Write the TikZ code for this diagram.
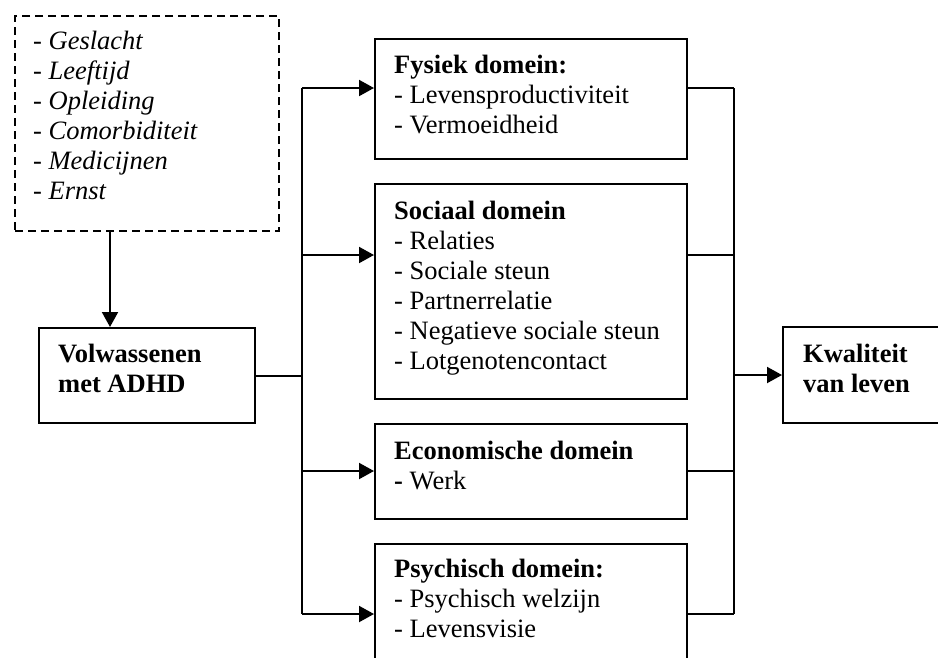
\documentclass[tikz,border=0pt]{standalone}
\usepackage{fontspec}
\setmainfont{Liberation Serif}
\usetikzlibrary{arrows.meta}
\begin{document}
\begin{tikzpicture}[x=1pt,y=-1pt,
  box/.style={draw,line width=2pt,inner sep=0pt,anchor=north west},
  dbox/.style={box,dash pattern=on 8pt off 5pt},
  txt/.style={inner sep=0pt,anchor=base west,align=left,font=\fontsize{26.5}{30}\selectfont},
  conn/.style={line width=2pt},
  arr/.style={conn,-{Triangle[length=15pt,width=16pt]}}]
\useasboundingbox (0,0) rectangle (938,657);
\fill[white] (0,0) rectangle (938,657);
\clip (0,0) rectangle (938,657);
% boxes
\node[dbox,minimum width=264,minimum height=215] (dash) at (14,15) {};
\node[box,minimum width=216,minimum height=95] (vol) at (38,327) {};
\node[box,minimum width=312,minimum height=120] (fys) at (374,38) {};
\node[box,minimum width=312,minimum height=215] (soc) at (374,183) {};
\node[box,minimum width=312,minimum height=95] (eco) at (374,423) {};
\node[box,minimum width=312,minimum height=160] (psy) at (374,543) {};
\node[box,minimum width=170,minimum height=96] (kwa) at (782,326) {};
% texts (anchored at the baseline of their last line)
\node[txt] (dasht) at (33,199) {\itshape - Geslacht\\\itshape - Leeftijd\\\itshape - Opleiding\\\itshape - Comorbiditeit\\\itshape - Medicijnen\\\itshape - Ernst};
\node[txt] (volt) at (58,392) {\bfseries Volwassenen\\\bfseries met ADHD};
\node[txt] (fyst) at (394,133) {\bfseries Fysiek domein:\\- Levensproductiviteit\\- Vermoeidheid};
\node[txt] (soct) at (394,369) {\bfseries Sociaal domein\\- Relaties\\- Sociale steun\\- Partnerrelatie\\- Negatieve sociale steun\\- Lotgenotencontact};
\node[txt] (ecot) at (394,489) {\bfseries Economische domein\\\textbf{-} Werk};
\node[txt] (psyt) at (394,637) {\bfseries Psychisch domein:\\- Psychisch welzijn\\- Levensvisie};
\node[txt] (kwat) at (803,392) {\bfseries Kwaliteit\\\bfseries van leven};
% bus coordinates
\coordinate (dtop) at (110,230);
\coordinate (lb1) at (302,88);
\coordinate (lb2) at (302,255);
\coordinate (lb3) at (302,471);
\coordinate (lb4) at (302,614);
\coordinate (rb1) at (734,88);
\coordinate (rb2) at (734,255);
\coordinate (rb3) at (734,471);
\coordinate (rb4) at (734,614);
% connectors
\draw[arr] (dtop) -- (dtop |- vol.north);
\draw[conn] (vol.east) -- (vol.east -| lb1);
\draw[conn] (lb1) -- (lb4);
\draw[arr] (lb1) -- (lb1 -| fys.west);
\draw[arr] (lb2) -- (lb2 -| soc.west);
\draw[arr] (lb3) -- (lb3 -| eco.west);
\draw[arr] (lb4) -- (lb4 -| psy.west);
\draw[conn] (rb1) -- (rb4);
\draw[conn] (rb1 -| fys.east) -- (rb1);
\draw[conn] (rb2 -| soc.east) -- (rb2);
\draw[conn] (rb3 -| eco.east) -- (rb3);
\draw[conn] (rb4 -| psy.east) -- (rb4);
\draw[arr] (rb1 |- kwa.west) -- (kwa.west);
\end{tikzpicture}
\end{document}
